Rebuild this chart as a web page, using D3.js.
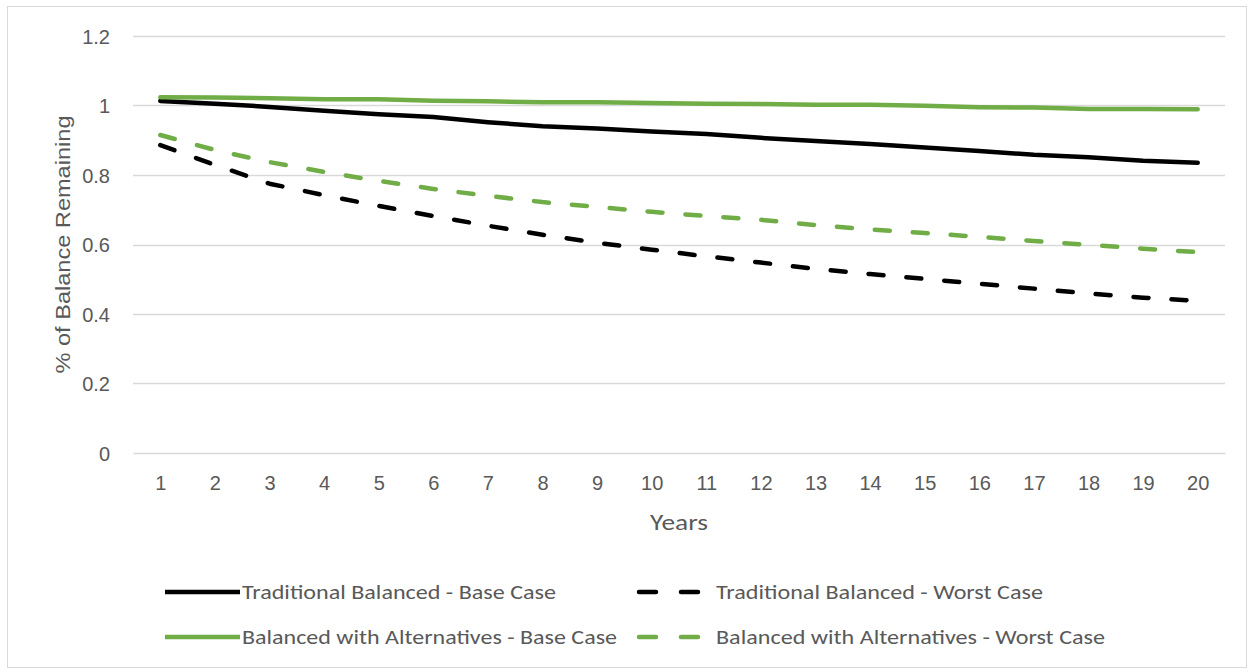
<!DOCTYPE html>
<html>
<head>
<meta charset="utf-8">
<script src="https://cdn.jsdelivr.net/npm/d3@7"></script>
<style>
  html, body { margin: 0; padding: 0; background: #fff; }
  svg { display: block; font-family: Carlito, Calibri, Lato, "Open Sans", sans-serif; }
</style>
</head>
<body>
<svg id="chart" width="1253" height="671"></svg>
<script>
// Years on the horizontal axis
const years = d3.range(1, 21);
const yTicks = [0, 0.2, 0.4, 0.6, 0.8, 1, 1.2];

// Share of starting balance remaining, by year
const tradBase = [1.013, 1.005, 0.996, 0.985, 0.975, 0.967, 0.952, 0.940, 0.934, 0.925,
                  0.918, 0.907, 0.898, 0.889, 0.879, 0.869, 0.858, 0.851, 0.841, 0.835];
const tradWorst = [0.886, 0.829, 0.775, 0.742, 0.711, 0.682, 0.654, 0.628, 0.605, 0.585,
                   0.566, 0.548, 0.530, 0.515, 0.501, 0.487, 0.473, 0.459, 0.447, 0.438];
const altBase = [1.024, 1.023, 1.021, 1.018, 1.018, 1.014, 1.012, 1.009, 1.009, 1.007,
                 1.005, 1.004, 1.002, 1.002, 0.999, 0.995, 0.994, 0.990, 0.990, 0.989];
const altWorst = [0.915, 0.872, 0.837, 0.809, 0.783, 0.760, 0.740, 0.722, 0.708, 0.694,
                  0.682, 0.671, 0.656, 0.643, 0.633, 0.622, 0.610, 0.599, 0.588, 0.578];

const seriesNames = ["Traditional Balanced - Base Case", "Traditional Balanced - Worst Case",
                     "Balanced with Alternatives - Base Case", "Balanced with Alternatives - Worst Case"];

const black = "#000000", green = "#70ad47", textColor = "#595959", grid = "#d9d9d9";

const series = [
  { name: seriesNames[0], values: tradBase, color: black, dashed: false },
  { name: seriesNames[1], values: tradWorst, color: black, dashed: true },
  { name: seriesNames[2], values: altBase, color: green, dashed: false },
  { name: seriesNames[3], values: altWorst, color: green, dashed: true }
];

const svg = d3.select("#chart");
const W = 1253, H = 671;

// outer chart frame
svg.append("rect").attr("x", 7.5).attr("y", 6.5).attr("width", W - 14).attr("height", H - 10)
  .attr("fill", "#fff").attr("stroke", grid).attr("stroke-width", 1);

const plot = { left: 133, right: 1225, top: 36, bottom: 453 };

const x = d3.scalePoint().domain(years).range([plot.left, plot.right]).padding(0.5);
const y = d3.scaleLinear().domain([0, 1.2]).range([plot.bottom, plot.top]);

// horizontal gridlines
svg.append("g").selectAll("line").data(yTicks.filter(d => d > 0)).join("line")
  .attr("x1", plot.left).attr("x2", plot.right)
  .attr("y1", d => Math.round(y(d)) + 0.5).attr("y2", d => Math.round(y(d)) + 0.5)
  .attr("stroke", grid).attr("stroke-width", 1.3);

// y axis labels
const yAxis = d3.axisLeft(y).tickValues(yTicks).tickFormat(d3.format("~g")).tickSize(0).tickPadding(0);
const yg = svg.append("g").attr("transform", `translate(110,0)`).call(yAxis);
yg.select(".domain").remove();
yg.selectAll("text").attr("fill", textColor).attr("font-size", 20).attr("dy", "0.35em");

// x axis
const xAxis = d3.axisBottom(x).tickSize(0).tickPadding(0);
const xg = svg.append("g").attr("transform", `translate(0,${plot.bottom})`).call(xAxis);
xg.select(".domain").attr("stroke", grid).attr("stroke-width", 1.3);
xg.selectAll("text").attr("fill", textColor).attr("font-size", 20).attr("dy", null).attr("y", 37);

// axis titles
svg.append("text").attr("x", 679).attr("y", 530)
  .attr("text-anchor", "middle").attr("font-size", 22).attr("fill", textColor)
  .attr("textLength", 58).attr("lengthAdjust", "spacingAndGlyphs").text("Years");
svg.append("text").attr("transform", `translate(70,${(plot.top + plot.bottom) / 2}) rotate(-90)`)
  .attr("text-anchor", "middle").attr("font-size", 21)
  .attr("font-family", "'Liberation Sans', Arial, sans-serif").attr("fill", textColor)
  .attr("textLength", 258).attr("lengthAdjust", "spacingAndGlyphs")
  .text("% of Balance Remaining");

// data lines
const line = d3.line().x((d, i) => x(years[i])).y(d => y(d));
svg.append("g").selectAll("path").data(series).join("path")
  .attr("d", d => line(d.values))
  .attr("fill", "none")
  .attr("stroke", d => d.color)
  .attr("stroke-width", 4.5)
  .attr("stroke-linecap", "round")
  .attr("stroke-linejoin", "round")
  .attr("stroke-dasharray", d => d.dashed ? "15,23" : null);

// legend
const legendPos = [
  { x: 165, y: 592, w: 314 }, { x: 637, y: 592, w: 327 },
  { x: 165, y: 637, w: 375 }, { x: 637, y: 637, w: 389 }
];
const lg = svg.append("g").selectAll("g").data(series).join("g")
  .attr("transform", (d, i) => `translate(${legendPos[i].x},${legendPos[i].y})`);
lg.append("line").attr("x1", d => d.dashed ? 2 : 0).attr("x2", d => d.dashed ? 74 : 75)
  .attr("y1", 0).attr("y2", 0)
  .attr("stroke", d => d.color).attr("stroke-width", 4.5)
  .attr("stroke-linecap", d => d.dashed ? "round" : "butt")
  .attr("stroke-dasharray", d => d.dashed ? "17,25" : null);
lg.append("text").attr("x", d => d.dashed ? 79 : 77).attr("y", 0).attr("dy", "0.35em")
  .attr("font-size", 20).attr("fill", textColor)
  .attr("textLength", (d, i) => legendPos[i].w).attr("lengthAdjust", "spacingAndGlyphs")
  .text(d => d.name);
</script>
</body>
</html>
